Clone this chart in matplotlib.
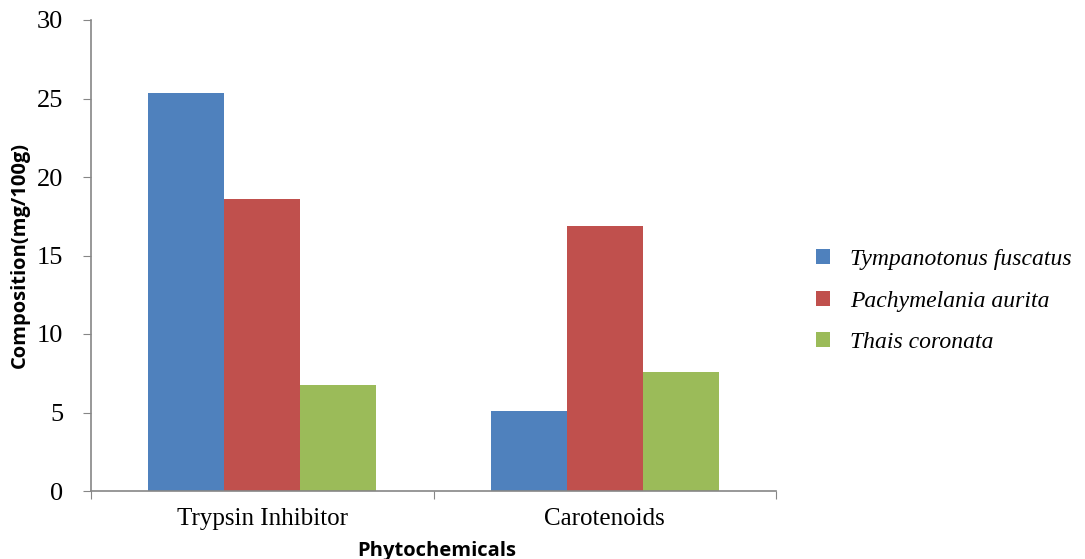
import matplotlib
matplotlib.use("Agg")
import matplotlib.pyplot as plt
import numpy as np

categories = ["Trypsin Inhibitor", "Carotenoids"]
series_names = ["Tympanotonus fuscatus", "Pachymelania aurita", "Thais coronata"]
tympanotonus = [25.35, 5.1]
pachymelania = [18.6, 16.9]
thais = [6.75, 7.6]
colors = ["#4F81BD", "#C0504D", "#9BBB59"]
yticks = [0, 5, 10, 15, 20, 25, 30]

fig = plt.figure(figsize=(10.85, 5.59), dpi=100)
ax = fig.add_axes([91/1085, 1-491/559, (776-91)/1085, (491-20)/559])

x = np.arange(len(categories))
w = 0.667/3
series = [tympanotonus, pachymelania, thais]
handles = []
for i, (vals, name, c) in enumerate(zip(series, series_names, colors)):
    b = ax.bar(x + (i-1)*w, vals, width=w, color=c, label=name, edgecolor="none")
    handles.append(b)

ax.set_xlim(-0.5, 1.5)
ax.set_ylim(0, 30)
ax.set_yticks(yticks)
ax.set_yticklabels([str(t) for t in yticks], fontfamily="Liberation Serif", fontsize=19)
ax.set_xticks([-0.5, 0.5, 1.5])
ax.set_xticklabels([])
ax.set_xticks(x, minor=True)
ax.set_xticklabels(categories, minor=True, fontfamily="Liberation Serif", fontsize=18)
ax.tick_params(axis="x", which="minor", length=0, pad=12)
ax.tick_params(axis="x", which="major", length=6, color="#868686", direction="out")
ax.tick_params(axis="y", length=6, color="#868686", direction="out", pad=14)
for s in ["top", "right"]:
    ax.spines[s].set_visible(False)
for s in ["left", "bottom"]:
    ax.spines[s].set_color("#868686")
    ax.spines[s].set_linewidth(1.2)

fig.text(20/1085, 1-255/559, "Composition(mg/100g)", rotation=90, ha="center", va="center",
         fontfamily="Open Sans", fontweight="bold", fontsize=14.5)
fig.text(437/1085, 1-551/559, "Phytochemicals", ha="center", va="center",
         fontfamily="Open Sans", fontweight="bold", fontsize=14.5)

leg = fig.legend(handles=handles, labels=series_names, loc="center left",
                 bbox_to_anchor=(795/1085, 1-301/559), frameon=False,
                 prop={"family": "Liberation Serif", "style": "italic", "size": 17},
                 handlelength=0.6, handleheight=0.6, handletextpad=0.83, labelspacing=0.88)

fig.savefig("out.png", dpi=100)
